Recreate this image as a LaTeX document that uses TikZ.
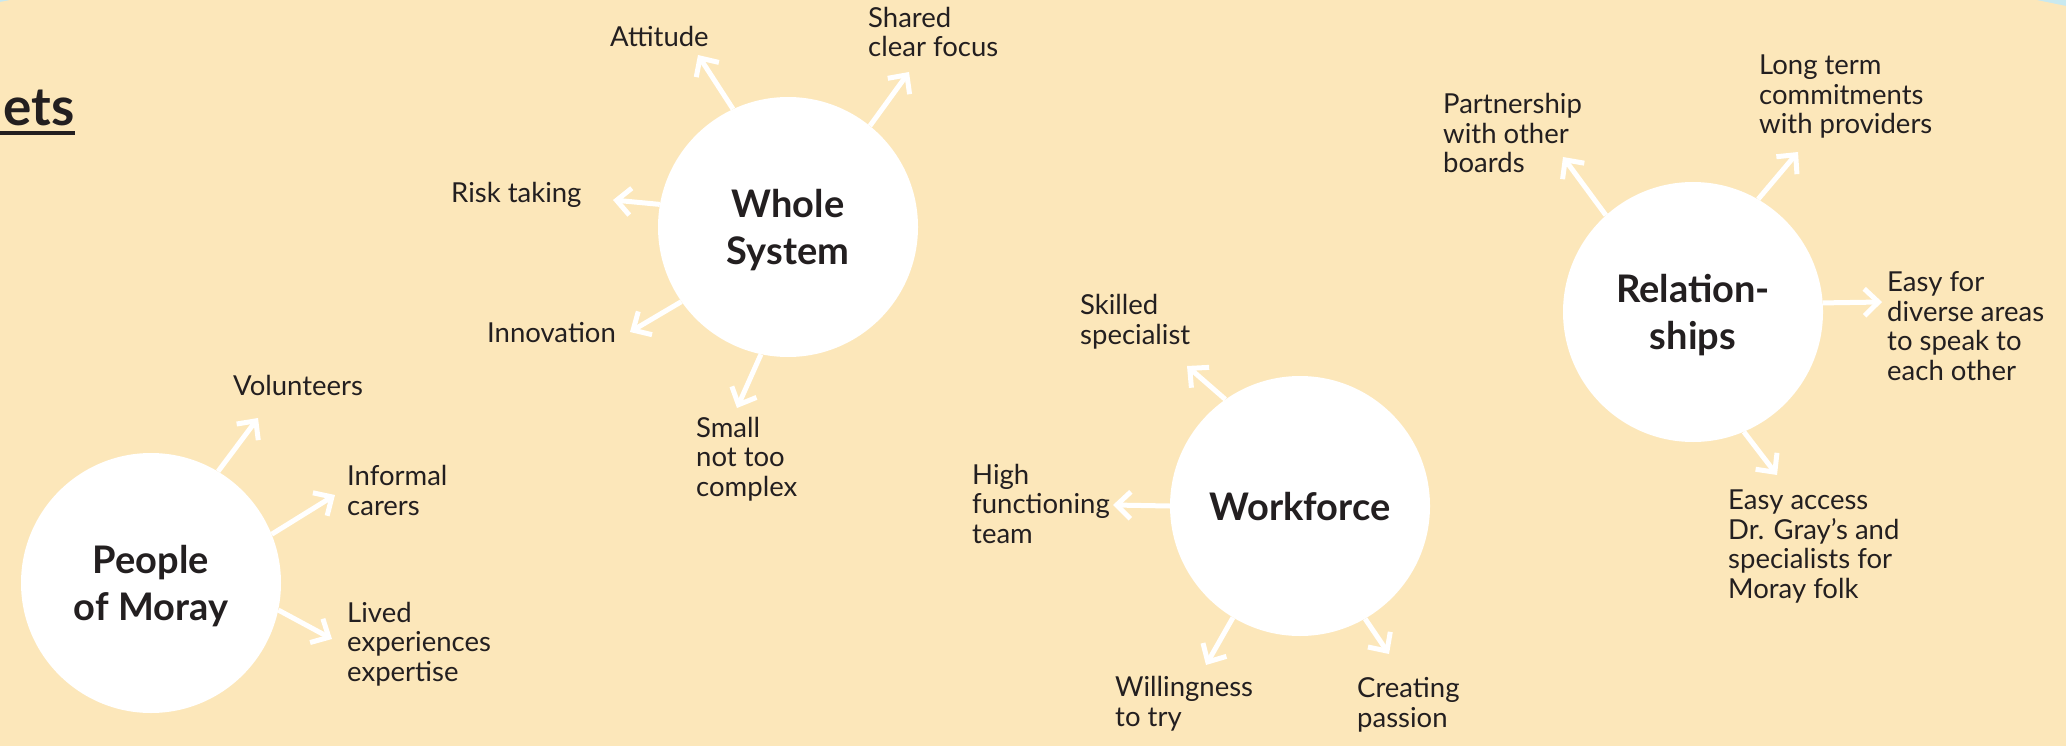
\documentclass[tikz,border=0pt]{standalone}
\usepackage{fontspec}
\setmainfont{Lato}
\usetikzlibrary{arrows.meta}
\definecolor{cream}{HTML}{FCE7BA}
\definecolor{sky}{HTML}{C9E9EF}
\definecolor{ink}{HTML}{231F20}
\begin{document}
\begin{tikzpicture}[x=1pt,y=-1pt,
  hub/.style={circle, fill=white, minimum size=260pt, inner sep=0pt, align=center,
    text depth=0pt, font=\fontsize{38}{47}\selectfont\bfseries, text=ink},
  lbl/.style={anchor=base west, inner sep=0pt, align=left,
    font=\fontsize{27.5}{29.5}\selectfont, text=ink},
  arr/.style={white, line width=5pt, line join=miter,
    -{Straight Barb[length=14pt,width=27pt]}}]
\useasboundingbox (0,0) rectangle (2066,746);
\clip (0,0) rectangle (2066,746);
\fill[sky] (0,0) rectangle (2066,746);
\fill[cream] (0,2) .. controls (689,-135) and (1377,-135) .. (2066,6) -- (2066,746) -- (0,746) -- cycle;

% heading
\node[anchor=base east, inner sep=0pt, font=\fontsize{53}{60}\selectfont\bfseries, text=ink] (head) at (75,126) {ets};
\draw[ink, line width=4pt] ([yshift=-7pt,xshift=-10pt]head.base west) -- ([yshift=-7pt]head.base east);

% hubs
\node[hub] (ws) at (788,227) {Whole\\System};
\node[hub] (pm) at (151,583) {People\\of Moray};
\node[hub] (wf) at (1300,506) {Workforce};
\node[hub] (rl) at (1693,312) {Relation-\\ships};

% labels (anchored at the baseline of the last line)
\node[lbl] (l1) at (610,47) {Attitude};
\node[lbl] (l2) at (868,57) {Shared\\clear focus};
\node[lbl] (l3) at (451,203) {Risk taking};
\node[lbl] (l4) at (487,342) {Innovation};
\node[lbl] (l5) at (696,496) {Small\\not too\\complex};
\node[lbl] (l6) at (233,395) {Volunteers};
\node[lbl] (l7) at (347,515) {Informal\\carers};
\node[lbl] (l8) at (347,681) {Lived\\experiences\\expertise};
\node[lbl] (l9) at (1080,344) {Skilled\\specialist};
\node[lbl] (l10) at (972,543) {High\\functioning\\team};
\node[lbl] (l11) at (1115,726) {Willingness\\to try};
\node[lbl] (l12) at (1357,727) {Creating\\passion};
\node[lbl] (l13) at (1443,173) {Partnership\\with other\\boards};
\node[lbl] (l14) at (1759,134) {Long term\\commitments\\with providers};
\node[lbl] (l15) at (1887,380) {Easy for\\diverse areas\\to speak to\\each other};
\node[lbl] (l16) at (1728,598) {Easy access\\Dr. Gray’s and\\specialists for\\Moray folk};

% arrow tips
\coordinate (tA) at (698,55);
\coordinate (tB) at (909,72);
\coordinate (tC) at (613,200);
\coordinate (tD) at (630,332);
\coordinate (tE) at (737,408);
\coordinate (tF) at (258,418);
\coordinate (tG) at (335,495);
\coordinate (tH) at (332,639);
\coordinate (tI) at (1187,366);
\coordinate (tJ) at (1113,505);
\coordinate (tK) at (1206,665);
\coordinate (tL) at (1389,654);
\coordinate (tM) at (1563,157);
\coordinate (tN) at (1798,152);
\coordinate (tO) at (1882,302);
\coordinate (tP) at (1777,475);

% arrows
\draw[arr] (ws.115) -- (tA);
\draw[arr] (ws.51) -- (tB);
\draw[arr] (ws.170) -- (tC);
\draw[arr] (ws.215) -- (tD);
\draw[arr] (ws.258) -- (tE);
\draw[arr] (pm.59) -- (tF);
\draw[arr] (pm.22) -- (tG);
\draw[arr] (pm.-12) -- (tH);
\draw[arr] (wf.125) -- (tI);
\draw[arr] (wf.180) -- (tJ);
\draw[arr] (wf.239) -- (tK);
\draw[arr] (wf.300) -- (tL);
\draw[arr] (rl.132) -- (tM);
\draw[arr] (rl.60) -- (tN);
\draw[arr] (rl.4) -- (tO);
\draw[arr] (rl.293) -- (tP);
\end{tikzpicture}
\end{document}
